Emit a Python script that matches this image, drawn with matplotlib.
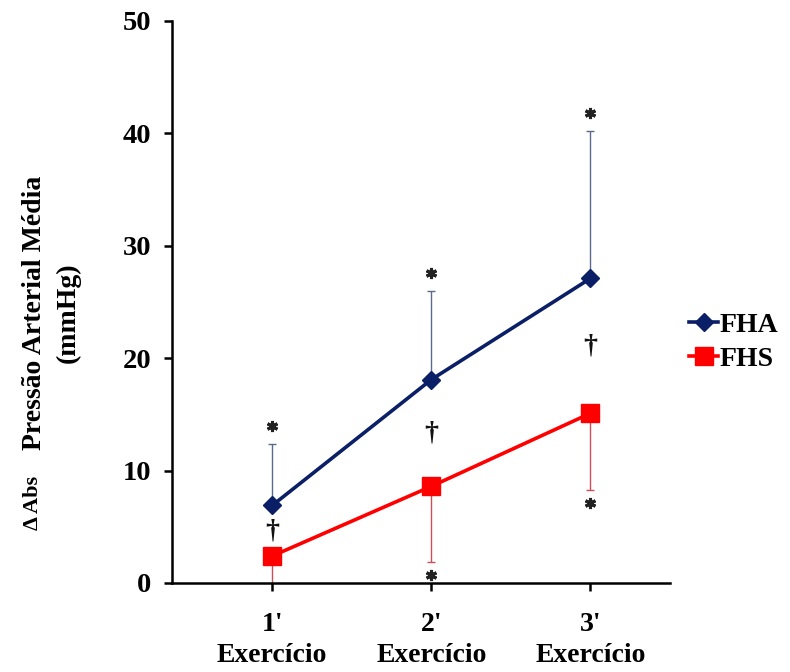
import matplotlib
matplotlib.use('Agg')
import matplotlib.pyplot as plt
import numpy as np

# data
categories = ["1'\nExercício", "2'\nExercício", "3'\nExercício"]
fha_mean = [6.9, 18.1, 27.1]
fha_sd = [5.5, 7.9, 13.1]
fhs_mean = [2.4, 8.6, 15.1]
fhs_sd = [2.9, 6.7, 6.8]
# significance marks: which points get a '*'
fha_star = [True, True, True]
fhs_star = [False, True, True]

NAVY = '#0b1f66'
RED = '#ff0000'
plt.rcParams['font.family'] = ['Liberation Serif', 'DejaVu Serif']
plt.rcParams['font.weight'] = 'bold'

fig = plt.figure(figsize=(7.9, 6.72), dpi=100)
ax = fig.add_axes([172/790, 1 - 583/672, (670 - 172)/790, (583 - 21)/672])

x = np.arange(1, len(categories) + 1)
zeros = np.zeros(len(x))

ax.errorbar(x, fha_mean, yerr=[zeros, fha_sd], fmt='none', ecolor='#5b6b8c',
            elinewidth=1.0, capsize=3, capthick=1.0, zorder=2)
ax.errorbar(x, fhs_mean, yerr=[fhs_sd, zeros], fmt='none', ecolor='#c8505a',
            elinewidth=1.0, capsize=3, capthick=1.0, zorder=2)

ax.plot(x, fha_mean, color=NAVY, lw=2.6, marker='D', ms=9, label='FHA', zorder=4)
ax.plot(x, fhs_mean, color=RED, lw=2.6, marker='s', ms=12.5, label='FHS', zorder=4)

# asterisks above FHA error bars, below FHS error bars
fha_top = np.array(fha_mean) + np.array(fha_sd)
fhs_bot = np.array(fhs_mean) - np.array(fhs_sd)
for i in range(len(x)):
    if fha_star[i]:
        ax.plot(x[i], fha_top[i] + 1.6, marker=(6, 2, 0), ms=8, mew=2.2, color='#222222',
                clip_on=False)
    if fhs_star[i]:
        ax.plot(x[i], fhs_bot[i] - 1.15, marker=(6, 2, 0), ms=8, mew=2.2, color='#222222',
                clip_on=False)
    # dagger midway between the two groups
    ax.text(x[i], (fha_mean[i] + fhs_mean[i]) / 2, '†', ha='center', va='center',
            fontsize=20, color='#111111')

ax.set_xlim(0.37, 3.5)
ax.set_ylim(0, 50)
ax.set_yticks(range(0, 51, 10))
ax.set_xticks(x)
ax.set_xticklabels(categories, fontsize=20, fontweight='bold', linespacing=1.3)
ax.tick_params(axis='y', labelsize=20.5, width=1.8, length=6, pad=9)
ax.tick_params(axis='x', width=1.8, length=6, pad=15)
for lab in ax.get_yticklabels():
    lab.set_fontweight('bold')

for s in ['top', 'right']:
    ax.spines[s].set_visible(False)
for s in ['left', 'bottom']:
    ax.spines[s].set_linewidth(1.8)

fig.text(33/790, 1 - 503/672, 'Δ Abs', rotation=90, ha='center', va='center',
         fontsize=16, fontweight='bold')
fig.text(51/790, 1 - 313/672, 'Pressão Arterial Média\n(mmHg)', rotation=90,
         ha='center', va='center', fontsize=20, fontweight='bold', linespacing=1.45,
         multialignment='center')

fig.legend(loc='center left', bbox_to_anchor=(689/790, 1 - 342/672), frameon=False,
           handlelength=1.05, handletextpad=0.05, labelspacing=0.3, borderpad=0,
           borderaxespad=0, prop={'weight': 'bold', 'size': 20})

fig.savefig('out.png', dpi=100, facecolor='white')
